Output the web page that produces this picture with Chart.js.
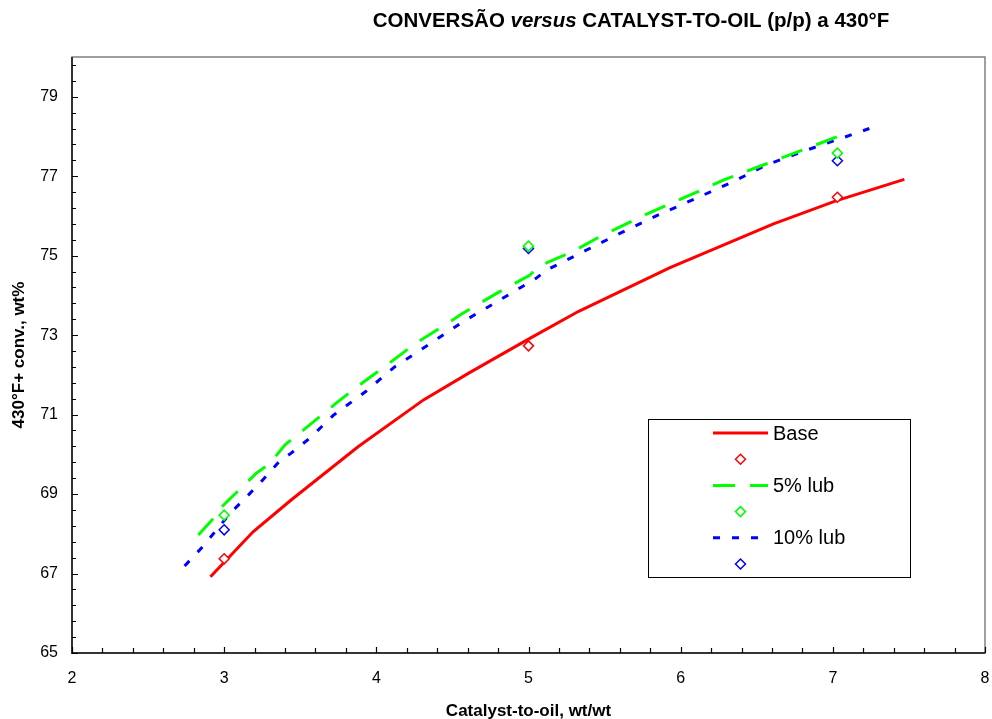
<!DOCTYPE html>
<html>
<head>
<meta charset="utf-8">
<script src="https://cdn.jsdelivr.net/npm/chart.js@4.4.0/dist/chart.umd.min.js"></script>
<style>
html, body { margin: 0; padding: 0; background: #fff; }
</style>
</head>
<body>
<canvas id="myChart" width="992" height="719"></canvas>
<script>
// curve fits
let baseX = [2.91, 3.19, 3.44, 3.88, 4.31, 4.61, 5.0, 5.33, 5.93, 6.61, 7.02, 7.47];
let baseY = [66.92, 68.05, 68.85, 70.19, 71.37, 72.05, 72.9, 73.6, 74.7, 75.8, 76.38, 76.92];

let lub5X = [2.83, 2.93, 2.99, 3.21, 3.30, 3.40, 3.52, 3.60, 3.74, 3.87, 4.07, 4.26, 4.47, 4.56, 4.79, 5.01, 5.06, 5.29, 5.47, 5.76, 6.0, 6.28, 6.52, 6.76, 7.06];
let lub5Y = [67.97, 68.39, 68.7, 69.52, 69.77, 70.24, 70.61, 70.86, 71.3, 71.69, 72.25, 72.8, 73.3, 73.53, 74.05, 74.51, 74.72, 75.1, 75.48, 76.02, 76.42, 76.9, 77.25, 77.6, 78.04];

let lub10X = [2.74, 2.86, 3.04, 3.14, 3.24, 3.36, 3.44, 3.56, 3.72, 3.93, 4.12, 4.34, 4.57, 4.81, 5.05, 5.12, 5.36, 5.6, 5.85, 6.1, 6.36, 6.56, 6.83, 7.09, 7.24];
let lub10Y = [67.19, 67.68, 68.52, 68.9, 69.3, 69.81, 70.03, 70.4, 70.99, 71.58, 72.2, 72.75, 73.34, 73.88, 74.43, 74.64, 75.1, 75.56, 76.02, 76.44, 76.89, 77.28, 77.66, 78.0, 78.2];

// measured points
let ctoX = [3.0, 5.0, 7.03];
let baseObs = [67.37, 72.73, 76.47];
let lub5Obs = [68.47, 75.24, 77.58];
let lub10Obs = [68.1, 75.18, 77.39];

// axis ticks: minor marks every 0.2 (x) and 0.4 (y), labels on the majors
let xTickValues = [2, 2.2, 2.4, 2.6, 2.8, 3, 3.2, 3.4, 3.6, 3.8, 4, 4.2, 4.4, 4.6, 4.8, 5, 5.2, 5.4, 5.6, 5.8, 6, 6.2, 6.4, 6.6, 6.8, 7, 7.2, 7.4, 7.6, 7.8, 8];
let xTickLabels = [2, 3, 4, 5, 6, 7, 8];
let yTickValues = [65, 65.4, 65.8, 66.2, 66.6, 67, 67.4, 67.8, 68.2, 68.6, 69, 69.4, 69.8, 70.2, 70.6, 71, 71.4, 71.8, 72.2, 72.6, 73, 73.4, 73.8, 74.2, 74.6, 75, 75.4, 75.8, 76.2, 76.6, 77, 77.4, 77.8, 78.2, 78.6, 79, 79.4, 79.8];
let yTickLabels = [65, 67, 69, 71, 73, 75, 77, 79];

let seriesNames = ["Base", "", "5% lub", "", "10% lub", ""];
let titleParts = ["CONVERSÃO ", "versus", " CATALYST-TO-OIL (p/p) a 430°F"];
let xTitle = "Catalyst-to-oil, wt/wt";
let yTitle = "430°F+ conv., wt%";

const RED = "#ff0000";
const GREEN = "#00ff00";
const BLUE = "#0000ff";
const FONT = "Arial, 'Liberation Sans', sans-serif";

toPoints = (xs, ys) => xs.map((x, i) => ({ x: x, y: ys[i] }));

lineSet = (label, xs, ys, color, dash) => ({
  label: label,
  data: toPoints(xs, ys),
  borderColor: color,
  backgroundColor: color,
  borderWidth: 3,
  borderDash: dash,
  borderCapStyle: "butt",
  pointRadius: 0,
  tension: 0,
  showLine: true,
  order: 2,
});

markerSet = (label, ys, color) => ({
  label: label,
  data: toPoints(ctoX, ys),
  borderColor: color,
  backgroundColor: "#ffffff",
  pointStyle: "rectRot",
  pointRadius: 5,
  pointBorderWidth: 1.5,
  showLine: false,
  order: 1,
});

let isLabel = (v, labels) => labels.some((l) => Math.abs(l - v) < 1e-6);

// frame + inward ticks
const frameTicks = {
  id: "frameTicks",
  afterDatasetsDraw(chart) {
    const ctx = chart.ctx;
    const a = chart.chartArea;
    ctx.save();
    ctx.strokeStyle = "#808080";
    ctx.lineWidth = 1.5;
    ctx.strokeRect(a.left, a.top, a.right - a.left, a.bottom - a.top);
    ctx.strokeStyle = "#333333";
    ctx.lineWidth = 2;
    ctx.beginPath();
    ctx.moveTo(a.left, a.top);
    ctx.lineTo(a.left, a.bottom);
    ctx.lineTo(a.right, a.bottom);
    ctx.stroke();
    ctx.lineWidth = 1.2;
    ctx.strokeStyle = "#000000";
    ctx.beginPath();
    chart.scales.x.ticks.forEach((t) => {
      const px = Math.round(chart.scales.x.getPixelForValue(t.value)) + 0.5;
      const len = isLabel(t.value, xTickLabels) ? 6 : 5;
      ctx.moveTo(px, a.bottom);
      ctx.lineTo(px, a.bottom - len);
    });
    chart.scales.y.ticks.forEach((t) => {
      const py = Math.round(chart.scales.y.getPixelForValue(t.value)) + 0.5;
      const len = isLabel(t.value, yTickLabels) ? 6 : 4;
      ctx.moveTo(a.left, py);
      ctx.lineTo(a.left + len, py);
    });
    ctx.stroke();
    ctx.restore();
  },
};

const mixedTitle = {
  id: "mixedTitle",
  afterDraw(chart) {
    const ctx = chart.ctx;
    ctx.save();
    const fonts = ["bold 20.5px " + FONT, "italic bold 20.5px " + FONT, "bold 20.5px " + FONT];
    let widths = titleParts.map((p, i) => {
      ctx.font = fonts[i];
      return ctx.measureText(p).width;
    });
    let total = widths.reduce((s, w) => s + w, 0);
    let x = 631 - total / 2;
    ctx.fillStyle = "#000";
    ctx.textBaseline = "middle";
    titleParts.forEach((p, i) => {
      ctx.font = fonts[i];
      ctx.fillText(p, x, 21);
      x += widths[i];
    });
    ctx.restore();
  },
};

const boxLegend = {
  id: "boxLegend",
  afterDraw(chart) {
    const ctx = chart.ctx;
    const a = chart.chartArea;
    const left = a.left + 576, top = a.top + 362, w = 262, h = 158;
    ctx.save();
    ctx.fillStyle = "#ffffff";
    ctx.fillRect(left, top, w, h);
    ctx.strokeStyle = "#000";
    ctx.lineWidth = 1;
    ctx.strokeRect(left + 0.5, top + 0.5, w, h);
    ctx.font = "20px " + FONT;
    ctx.textBaseline = "middle";
    chart.data.datasets.forEach((ds, i) => {
      const y = top + 14 + i * 26.2;
      const x0 = left + 65, x1 = left + 120;
      if (ds.showLine) {
        ctx.strokeStyle = ds.borderColor;
        ctx.lineWidth = 3;
        ctx.setLineDash(ds.borderDash || []);
        ctx.beginPath();
        ctx.moveTo(x0, y);
        ctx.lineTo(x1, y);
        ctx.stroke();
        ctx.setLineDash([]);
      } else {
        ctx.strokeStyle = ds.borderColor;
        ctx.fillStyle = "#fff";
        ctx.lineWidth = 1.5;
        Chart.helpers.drawPoint(ctx, { pointStyle: "rectRot", radius: 5, borderWidth: 1.5 }, (x0 + x1) / 2, y);
      }
      if (seriesNames[i]) {
        ctx.fillStyle = "#000";
        ctx.fillText(seriesNames[i], x1 + 5, y + 1);
      }
    });
    ctx.restore();
  },
};

var ctx = document.getElementById("myChart").getContext("2d");
var chart = new Chart(ctx, {
  type: "scatter",
  data: {
    datasets: [
      lineSet("Base", baseX, baseY, RED, []),
      markerSet("Base obs", baseObs, RED),
      lineSet("5% lub", lub5X, lub5Y, GREEN, [22, 15]),
      markerSet("5% lub obs", lub5Obs, GREEN),
      lineSet("10% lub", lub10X, lub10Y, BLUE, [7, 12]),
      markerSet("10% lub obs", lub10Obs, BLUE),
    ],
  },
  options: {
    responsive: false,
    animation: false,
    layout: { padding: { top: 57, right: 7, left: 0, bottom: 0 } },
    plugins: {
      legend: { display: false },
      title: { display: false },
      tooltip: { enabled: false },
    },
    scales: {
      x: {
        type: "linear",
        min: 2,
        max: 8,
        afterBuildTicks: (scale) => { scale.ticks = xTickValues.map((v) => ({ value: v })); },
        afterFit: (scale) => { scale.height = 66; scale.paddingRight = 0; scale.paddingLeft = 0; },
        grid: { display: false, drawTicks: false },
        border: { display: false },
        ticks: {
          autoSkip: false,
          maxRotation: 0,
          padding: 16,
          color: "#000",
          font: { family: FONT, size: 16 },
          callback: (v) => (isLabel(v, xTickLabels) ? Math.round(v) : ""),
        },
        title: {
          display: true,
          text: xTitle,
          color: "#000",
          font: { family: FONT, size: 17, weight: "bold" },
          padding: { top: 0, bottom: -3 },
        },
      },
      y: {
        type: "linear",
        min: 65,
        max: 80,
        afterBuildTicks: (scale) => { scale.ticks = yTickValues.map((v) => ({ value: v })); },
        afterFit: (scale) => { scale.width = 72; scale.paddingTop = 0; scale.paddingBottom = 0; },
        grid: { display: false, drawTicks: false },
        border: { display: false },
        ticks: {
          autoSkip: false,
          padding: 14,
          color: "#000",
          font: { family: FONT, size: 16 },
          callback: (v) => (isLabel(v, yTickLabels) ? Math.round(v) : ""),
        },
        title: {
          display: true,
          text: yTitle,
          color: "#000",
          font: { family: FONT, size: 17, weight: "bold" },
          padding: { top: 9, bottom: 0 },
        },
      },
    },
  },
  plugins: [frameTicks, mixedTitle, boxLegend],
});
</script>
</body>
</html>
